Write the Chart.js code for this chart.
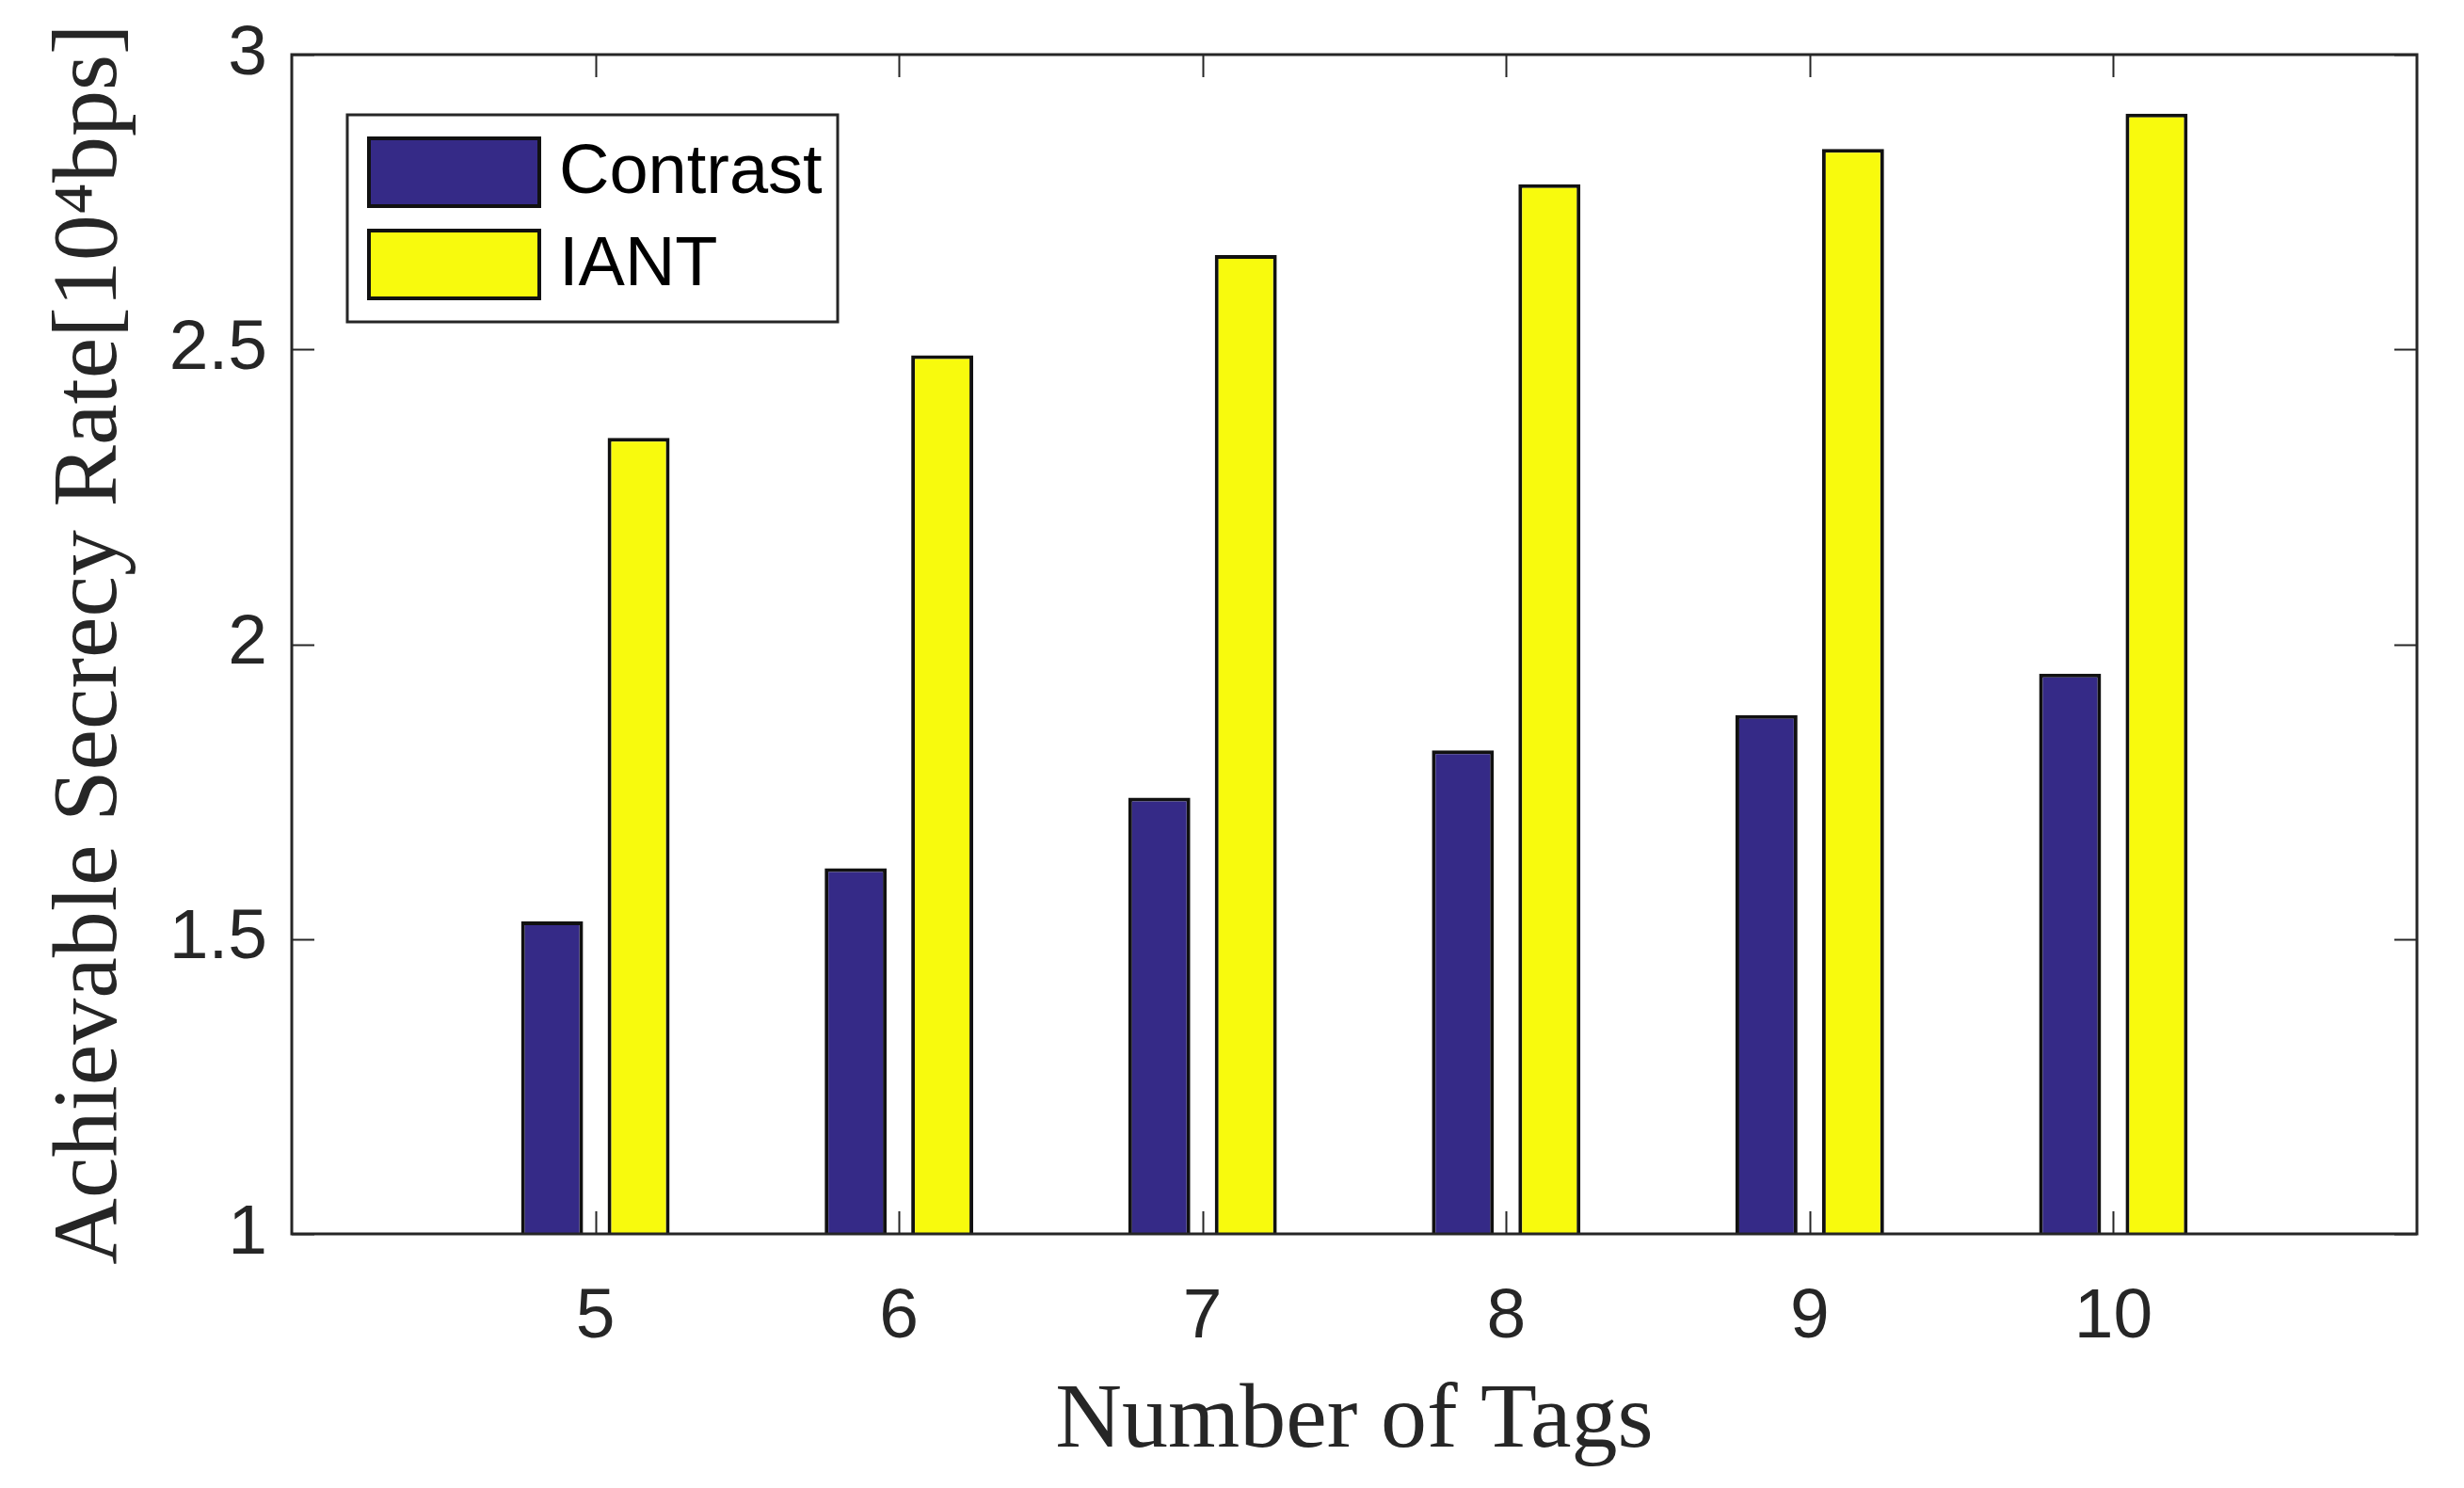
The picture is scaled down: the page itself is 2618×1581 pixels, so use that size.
<!DOCTYPE html>
<html><head><meta charset="utf-8">
<script src="https://cdn.jsdelivr.net/npm/chart.js@4/dist/chart.umd.min.js"></script>
<style>html,body{margin:0;padding:0;background:#fff;} canvas{display:block;}</style>
</head><body>
<canvas id="c" width="2618" height="1581"></canvas>
<script>
// ---- data ----
const categories = [5, 6, 7, 8, 9, 10];
const contrastValues = [1.53, 1.62, 1.74, 1.82, 1.88, 1.95];
const iantValues = [2.35, 2.49, 2.66, 2.78, 2.84, 2.90];
const yTicks = [1, 1.5, 2, 2.5, 3];
const seriesNames = ['Contrast', 'IANT'];
const seriesColors = ['#352A87', '#F8FA0D'];
const xTitle = 'Number of Tags';
const yTitle = 'Achievable Secrecy Rate[10\u2074bps]';

const AXIS = '#262626';
const TICKFONT = {family: '"Liberation Sans", Arial, sans-serif', size: 75};
const TITLEFONT = {family: '"Liberation Serif", "Times New Roman", serif', size: 98};

const boxPlugin = {
  id: 'box',
  afterDraw(chart) {
    const {ctx, chartArea: a, scales: {x, y}} = chart;
    ctx.save();
    ctx.strokeStyle = AXIS;
    ctx.lineWidth = 3;
    ctx.strokeRect(a.left, a.top, a.right - a.left, a.bottom - a.top);
    const L = 24;
    ctx.lineWidth = 2;
    ctx.beginPath();
    x.ticks.forEach(t => {
      const px = Math.round(x.getPixelForValue(t.value)) + 0.5;
      ctx.moveTo(px, a.bottom); ctx.lineTo(px, a.bottom - L);
      ctx.moveTo(px, a.top); ctx.lineTo(px, a.top + L);
    });
    y.ticks.forEach(t => {
      const py = Math.round(y.getPixelForValue(t.value)) + 0.5;
      ctx.moveTo(a.left, py); ctx.lineTo(a.left + L, py);
      ctx.moveTo(a.right, py); ctx.lineTo(a.right - L, py);
    });
    ctx.stroke();

    // legend
    const lx = 369, ly = 122, lw = 521, lh = 220;
    ctx.fillStyle = '#fff';
    ctx.fillRect(lx, ly, lw, lh);
    ctx.lineWidth = 3;
    ctx.strokeStyle = AXIS;
    ctx.strokeRect(lx, ly, lw, lh);
    const sw = 181, sh = 72;
    chart.data.datasets.forEach((ds, i) => {
      const sy = 147 + i * 98;
      ctx.fillStyle = ds.backgroundColor;
      ctx.fillRect(392, sy, sw, sh);
      ctx.lineWidth = 4;
      ctx.strokeStyle = '#111';
      ctx.strokeRect(392, sy, sw, sh);
      ctx.fillStyle = '#000';
      ctx.font = `74px ${TICKFONT.family}`;
      ctx.textBaseline = 'middle';
      ctx.textAlign = 'left';
      ctx.fillText(ds.label, 594, sy + sh / 2 + 2);
    });
    ctx.restore();
  }
};

new Chart(document.getElementById('c'), {
  type: 'bar',
  data: {
    datasets: [
      {label: seriesNames[0], data: categories.map((c, i) => ({x: c, y: contrastValues[i]})),
       backgroundColor: seriesColors[0], borderColor: '#111', borderWidth: 4,
       categoryPercentage: 0.57, barPercentage: 0.717},
      {label: seriesNames[1], data: categories.map((c, i) => ({x: c, y: iantValues[i]})),
       backgroundColor: seriesColors[1], borderColor: '#111', borderWidth: 4,
       categoryPercentage: 0.57, barPercentage: 0.717}
    ]
  },
  options: {
    responsive: false,
    animation: false,
    devicePixelRatio: 1,
    layout: {padding: {left: 0, right: 50, top: 58, bottom: 0}},
    plugins: {legend: {display: false}, tooltip: {enabled: false}},
    scales: {
      x: {
        type: 'linear', min: 4, max: 11, offset: false,
        afterBuildTicks: s => { s.ticks = categories.map(v => ({value: v})); },
        afterFit: s => { s.height = 270; s.paddingLeft = 0; s.paddingRight = 0; },
        grid: {display: false, drawTicks: false},
        border: {display: false},
        ticks: {font: TICKFONT, color: '#262626', padding: 44, maxRotation: 0,
                callback: v => String(v)},
        title: {display: true, text: xTitle, font: TITLEFONT, color: '#262626',
                padding: {top: 0, bottom: 11}}
      },
      y: {
        min: 1, max: 3,
        afterBuildTicks: s => { s.ticks = yTicks.map(v => ({value: v})); },
        afterFit: s => { s.width = 310; s.paddingTop = 0; s.paddingBottom = 0; },
        grid: {display: false, drawTicks: false},
        border: {display: false},
        ticks: {font: TICKFONT, color: '#262626', padding: 26,
                callback: v => String(v)},
        title: {display: true, text: yTitle, font: TITLEFONT, color: '#262626',
                padding: {top: 38, bottom: 0}}
      }
    }
  },
  plugins: [boxPlugin]
});
</script>
</body></html>
